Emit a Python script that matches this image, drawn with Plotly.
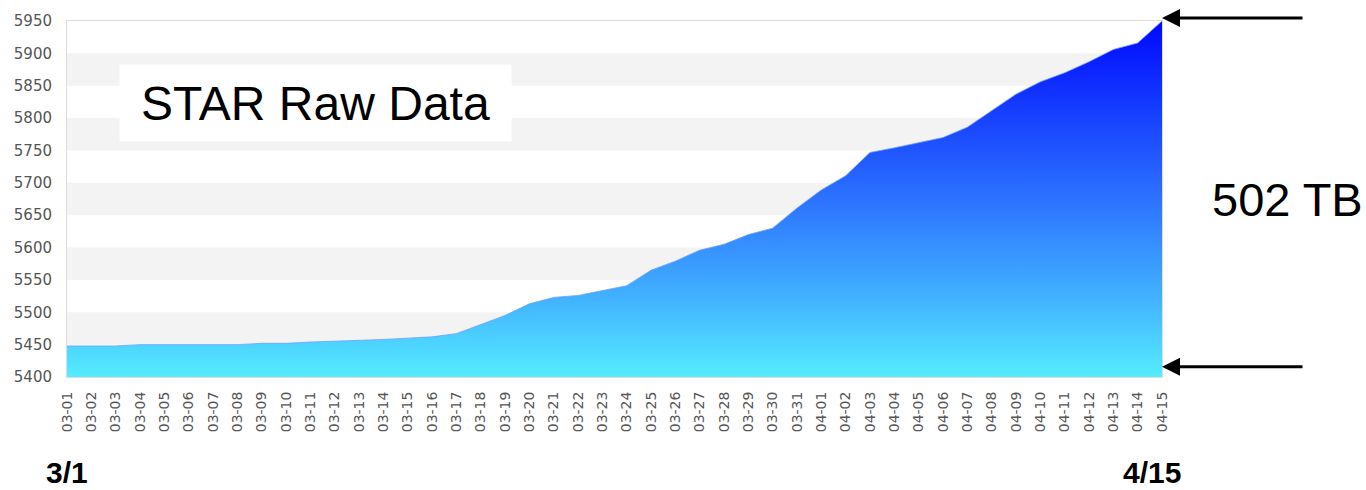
import plotly.graph_objects as go

dates = ["03-01","03-02","03-03","03-04","03-05","03-06","03-07","03-08","03-09","03-10",
         "03-11","03-12","03-13","03-14","03-15","03-16","03-17","03-18","03-19","03-20",
         "03-21","03-22","03-23","03-24","03-25","03-26","03-27","03-28","03-29","03-30",
         "03-31","04-01","04-02","04-03","04-04","04-05","04-06","04-07","04-08","04-09",
         "04-10","04-11","04-12","04-13","04-14","04-15"]
raw_tb = [5448, 5448, 5448, 5450, 5450, 5450, 5450, 5450, 5452, 5452,
          5454, 5455, 5456, 5458, 5460, 5462, 5467, 5481, 5495, 5513,
          5523, 5526, 5533, 5541, 5565, 5579, 5596, 5605, 5620, 5630,
          5661, 5689, 5711, 5747, 5754, 5762, 5770, 5786, 5812, 5837,
          5856, 5870, 5887, 5906, 5916, 5950]
y_ticks = [5400, 5450, 5500, 5550, 5600, 5650, 5700, 5750, 5800, 5850, 5900, 5950]
y_min, y_max = 5400, 5950

fig = go.Figure()
fig.add_trace(go.Scatter(x=dates, y=[y_min] * len(dates), mode="lines",
                         line=dict(width=0), hoverinfo="skip", showlegend=False))
fig.add_trace(go.Scatter(
    x=dates, y=raw_tb, mode="lines", fill="tonexty",
    line=dict(color="rgba(110,160,255,0.8)", width=1),
    fillgradient=dict(type="vertical",
                      colorscale=[[0, "#55ecff"], [0.22, "#42b2ff"], [0.5, "#2c72ff"], [1, "#0008ff"]]),
    showlegend=False))

# alternating bands
for i in range(1, len(y_ticks) - 1, 2):
    fig.add_shape(type="rect", xref="paper", yref="y", x0=0, x1=1,
                  y0=y_ticks[i], y1=y_ticks[i + 1], fillcolor="#f3f3f3",
                  line=dict(width=0), layer="below")

fig.add_annotation(text="STAR Raw Data", xref="paper", yref="paper", x=0.227, y=0.769,
                   xanchor="center", yanchor="middle",
                   showarrow=False, font=dict(family="Liberation Sans", size=48, color="black"),
                   bgcolor="white", width=391, height=76, borderpad=0)
fig.add_annotation(text="502 TB", xref="paper", yref="paper", x=1.1146, y=0.4986,
                   xanchor="center", yanchor="middle",
                   showarrow=False, font=dict(family="Liberation Sans", size=47, color="black"))
fig.add_annotation(text="<b>3/1</b>", xref="paper", yref="paper", x=0.0, y=-0.268,
                   xanchor="center", yanchor="middle",
                   showarrow=False, font=dict(family="Liberation Sans", size=30, color="black"))
fig.add_annotation(text="<b>4/15</b>", xref="paper", yref="paper", x=0.991, y=-0.268,
                   xanchor="center", yanchor="middle",
                   showarrow=False, font=dict(family="Liberation Sans", size=30, color="black"))
for ya in (1.0084, 0.0287):
    fig.add_annotation(text="", xref="paper", yref="paper", x=1.0, y=ya, ax=142, ay=0,
                       showarrow=True, arrowhead=2, arrowsize=1.2, arrowwidth=3,
                       arrowcolor="black", standoff=0)

fig.update_layout(
    width=1366, height=490,
    margin=dict(l=67, r=204, t=18, b=113),
    paper_bgcolor="white", plot_bgcolor="white",
    font=dict(family="DejaVu Sans", color="#555555"),
    xaxis=dict(type="category", range=[0, len(dates) - 1], tickangle=-90,
               tickfont=dict(size=14, color="#555555"), showgrid=False,
               showline=True, linecolor="#dddddd", mirror=True,
               ticks="outside", ticklen=8, tickcolor="rgba(0,0,0,0)"),
    yaxis=dict(range=[y_min, y_max], tickvals=y_ticks, showgrid=False,
               tickfont=dict(size=15, color="#555555"),
               showline=True, linecolor="#dddddd", mirror=True, zeroline=False,
               ticks="outside", ticklen=11, tickcolor="rgba(0,0,0,0)"),
)

fig.write_html("out.html", config={"displayModeBar": False},
               post_script="document.body.style.margin='0';document.body.style.overflow='hidden';")
